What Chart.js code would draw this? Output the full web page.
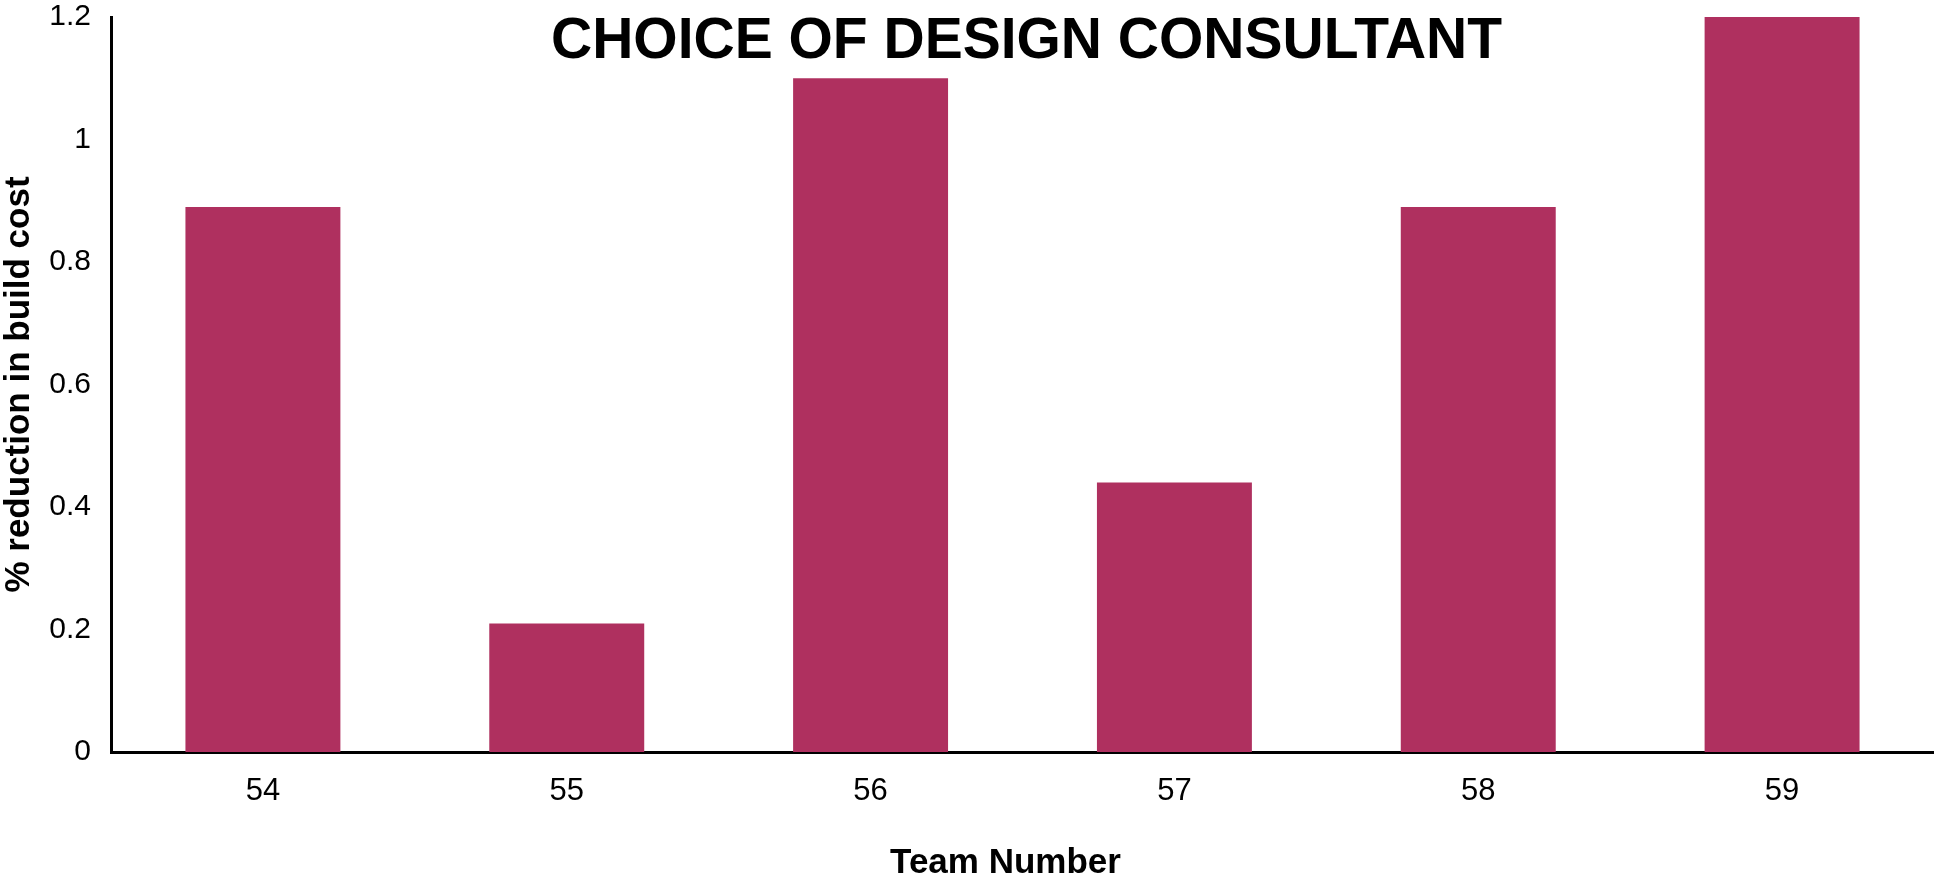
<!DOCTYPE html>
<html>
<head>
<meta charset="utf-8">
<title>Choice of Design Consultant</title>
<script src="https://cdn.jsdelivr.net/npm/chart.js@4/dist/chart.umd.min.js"></script>
<style>
  html, body { margin: 0; padding: 0; background: #fff; }
  #wrap { width: 1934px; height: 877px; position: relative; }
</style>
</head>
<body>
<div id="wrap"><canvas id="costChart"></canvas></div>
<script>
// Chart data
const teams = ["54", "55", "56", "57", "58", "59"];
const reductions = [0.89, 0.21, 1.1, 0.44, 0.89, 1.2];
const yTicks = [0, 0.2, 0.4, 0.6, 0.8, 1, 1.2];

const chartTitle = "CHOICE OF DESIGN CONSULTANT";
const xTitle = "Team Number";
const yTitle = "% reduction in build cost";

const FONT = '"Liberation Sans", Arial, sans-serif';

// Main title overlaps the plot area and the x title sits a bit left of
// centre in the original, so both are drawn here
const overlayTitles = {
  id: "overlayTitles",
  afterDraw(chart) {
    const { ctx, chartArea } = chart;
    const mid = (chartArea.left + chartArea.right) / 2;
    ctx.save();
    ctx.fillStyle = "#000";
    ctx.textAlign = "center";
    ctx.textBaseline = "alphabetic";
    ctx.font = "bold 57px " + FONT;
    ctx.fillText(chartTitle, mid + 4, 58);
    ctx.font = "bold 35px " + FONT;
    ctx.fillText(xTitle, mid - 17, chart.height - 4);
    ctx.restore();
  },
};

const ctx = document.getElementById("costChart").getContext("2d");
new Chart(ctx, {
  type: "bar",
  data: {
    labels: teams,
    datasets: [
      {
        label: "% reduction",
        data: reductions,
        backgroundColor: "#AF305F",
        borderWidth: 0,
        barPercentage: 0.51,
        categoryPercentage: 1,
      },
    ],
  },
  options: {
    responsive: true,
    maintainAspectRatio: false,
    animation: false,
    layout: { padding: 0 },
    plugins: {
      legend: { display: false },
      tooltip: { enabled: false },
    },
    scales: {
      x: {
        afterFit: (axis) => {
          axis.height = 125;
          axis.paddingLeft = 0;
          axis.paddingRight = 0;
        },
        grid: { display: false, drawTicks: false },
        border: { display: true, color: "#000", width: 3 },
        ticks: {
          color: "#000",
          font: { family: FONT, size: 31 },
          padding: 21,
        },
        title: { display: false },
      },
      y: {
        min: 0,
        max: 1.2,
        afterBuildTicks: (axis) => {
          axis.ticks = yTicks.map((v) => ({ value: v }));
        },
        afterFit: (axis) => {
          axis.width = 111;
          axis.paddingTop = 17;
          axis.paddingBottom = 0;
        },
        grid: { display: false, drawTicks: false },
        border: { display: true, color: "#000", width: 3 },
        ticks: {
          color: "#000",
          font: { family: FONT, size: 30 },
          padding: 20,
          callback: (v) => String(+Number(v).toFixed(1)),
        },
        title: {
          display: true,
          text: yTitle,
          color: "#000",
          font: { family: FONT, size: 35, weight: "bold", lineHeight: 1.1 },
          padding: { top: 0, bottom: 6 },
        },
      },
    },
  },
  plugins: [overlayTitles],
});
</script>
</body>
</html>
